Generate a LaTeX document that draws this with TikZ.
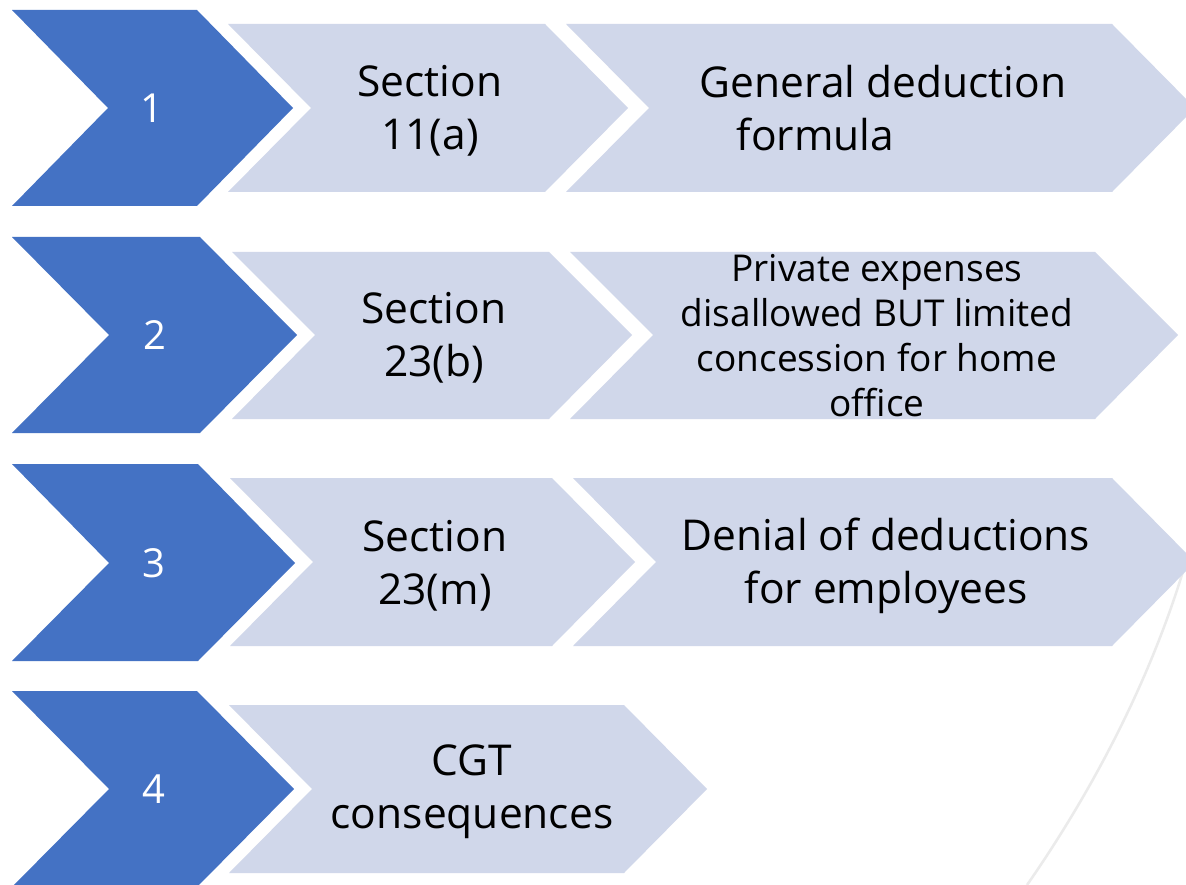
\documentclass[tikz,border=0pt]{standalone}
\usepackage{fontspec}
\setmainfont{Open Sans}
\definecolor{listblue}{HTML}{4472C4}
\definecolor{listpale}{HTML}{D0D7EA}
\tikzset{
  numchev/.style={fill=listblue},
  stepchev/.style={fill=listpale},
  numtext/.style={text=white,font=\fontsize{40}{52}\selectfont},
  steptext/.style={align=center,font=\fontsize{42.5}{53}\selectfont},
  smalltext/.style={align=center,font=\fontsize{37}{45}\selectfont},
  backarc/.style={draw=black!8,line width=2.5pt}
}
% style, left x, top-right x, point depth, top y, middle y, bottom y
\newcommand{\chevron}[7]{\fill[#1] (#2,#5) -- (#3,#5) -- ({#3+#4},#6) -- (#3,#7) -- (#2,#7) -- ({#2+#4},#6) -- cycle;}

\begin{document}
\begin{tikzpicture}[x=1pt,y=-1pt]
  \clip (0,0) rectangle (1186,885);
  \fill[white] (0,0) rectangle (1186,885);
  \draw[backarc] (1192,540) .. controls (1160,660) and (1100,780) .. (1027,885);

  % row 1
  \chevron{numchev}{12}{197}{96}{10}{108}{206}
  \chevron{stepchev}{228}{545}{83}{24}{108}{192}
  \chevron{stepchev}{566}{1112}{83}{24}{108}{192}
  % row 2
  \chevron{numchev}{12}{200}{97}{237}{335}{433}
  \chevron{stepchev}{232}{549}{83}{252}{335}{419}
  \chevron{stepchev}{570}{1095}{83}{252}{335}{419}
  % row 3
  \chevron{numchev}{12}{198}{97}{464}{563}{661}
  \chevron{stepchev}{230}{552}{83}{478}{562}{646}
  \chevron{stepchev}{573}{1112}{83}{478}{562}{646}
  % row 4
  \chevron{numchev}{12}{197}{97}{691}{789}{887}
  \chevron{stepchev}{229}{624}{83}{705}{789}{873}

  \node[numtext] (num1) at (152,108) {1};
  \node[numtext] (num2) at (155,335) {2};
  \node[numtext] (num3) at (154,563) {3};
  \node[numtext] (num4) at (154,789) {4};

  \node[steptext] (sec1) at (430,111) {Section\\11(a)};
  \node[steptext] (sec2) at (434,338) {Section\\23(b)};
  \node[steptext] (sec3) at (435,566) {Section\\23(m)};
  \node[steptext] (cgt) at (472,792) {CGT\\consequences};

  \node[steptext,align=left] (gdf) at (883,108) {General deduction\\\hspace*{37pt}formula};
  \node[smalltext] (private) at (877,336) {Private expenses\\disallowed BUT limited\\concession for home\\office};
  \node[steptext] (denial) at (886,566) {Denial of deductions\\for employees};
\end{tikzpicture}
\end{document}
